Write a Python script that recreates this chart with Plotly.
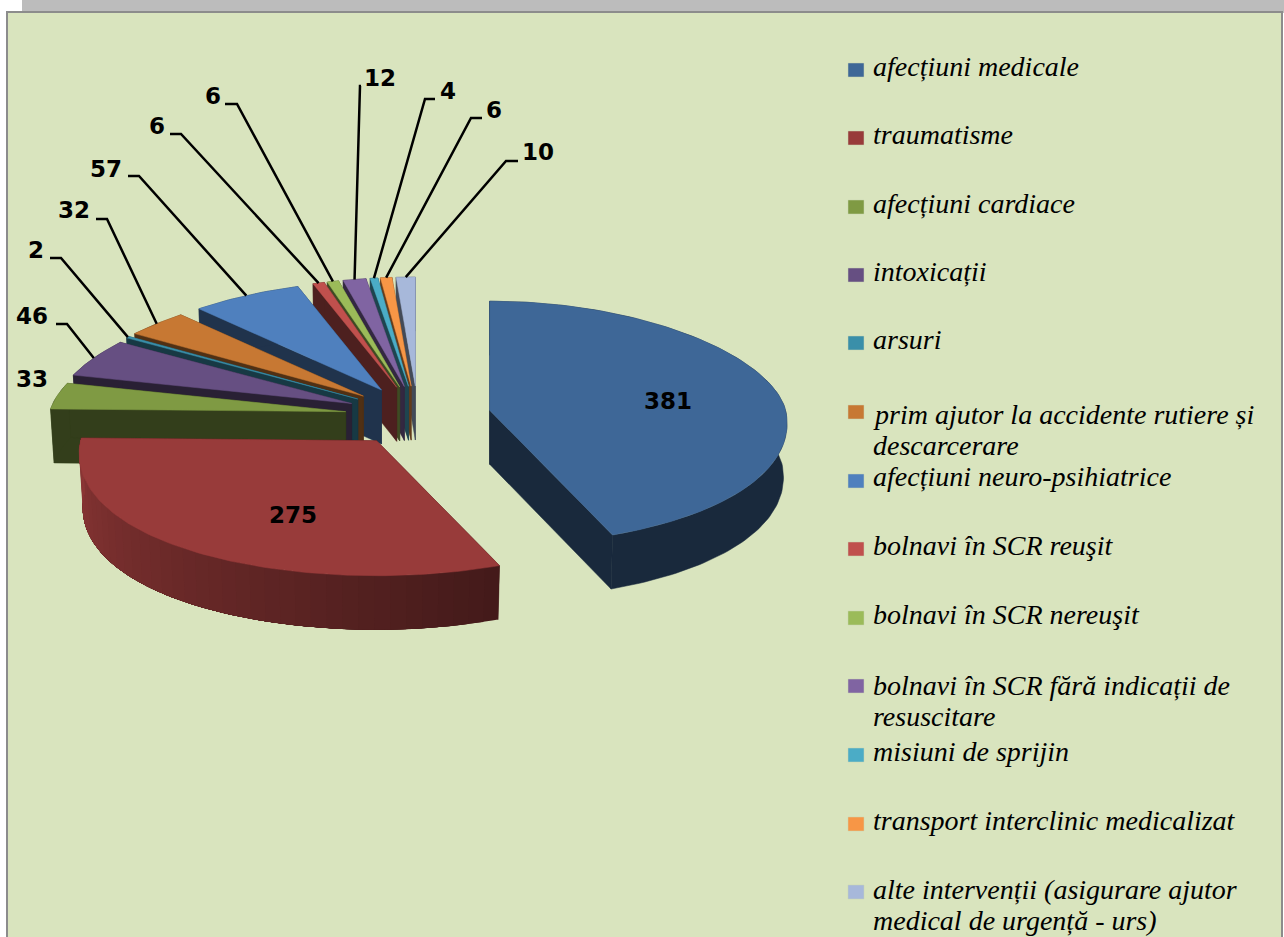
import math
import plotly.graph_objects as go

# ---------- data ----------
categories = [
    "afecțiuni medicale", "traumatisme", "afecțiuni cardiace", "intoxicații", "arsuri",
    "prim ajutor la accidente rutiere și<br>descarcerare", "afecțiuni neuro-psihiatrice",
    "bolnavi în SCR reuşit", "bolnavi în SCR nereuşit",
    "bolnavi în SCR fără indicații de<br>resuscitare", "misiuni de sprijin",
    "transport interclinic medicalizat",
    "alte intervenții (asigurare ajutor<br>medical de urgență - urs)",
]
values = [381, 275, 33, 46, 2, 32, 57, 6, 6, 12, 4, 6, 10]
colors = ["#3E6797", "#983B3A", "#7F9A43", "#664F82", "#3A8FA9", "#C77833", "#4F80BE",
          "#C0504D", "#9BBB59", "#8064A2", "#4BACC6", "#F79646", "#A7B8DA"]

# ---------- layout constants (pixels of the page) ----------
W, H = 1284, 937
CX, CY = 418, 416          # projected pie centre
PULL_X, PULL_Y = 73, 30    # explosion
RX, RY_BACK, RY_FRONT = 296, 109, 135
PERSP = 0.10
DEPTH = 54
WALL = 0.40
ARC_SHADE = {1: (0.44, 0.92)}   # gradient on the outer wall of the red slice

LABEL_POS = [(668, 401), (293, 515), (32, 379), (32, 316), (36, 250), (74, 210), (106, 169),
             (157, 126), (213, 96), (380, 78), (448, 91), (494, 110), (538, 152)]
# leader line: label end, elbow (index by slice)
LEADERS = {3: [(56, 324), (67, 324)], 4: [(50, 258), (61, 258)], 5: [(96, 219), (107, 219)],
           6: [(128, 176), (139, 176)], 7: [(170, 134), (181, 134)], 8: [(225, 104), (237, 104)],
           9: [(361, 86), (360, 86)], 10: [(435, 99), (425, 99)], 11: [(482, 118), (471, 118)],
           12: [(518, 161), (506, 161)]}
LEGEND_TEXT_Y = [66, 134, 203, 271, 339, 414, 476, 545, 614, 685, 751, 820, 889]
LEGEND_LINE_GAP = 31
LEGEND_BOX_Y = [70, 138, 207, 275, 343, 412, 481, 549, 618, 686, 755, 824, 892]


def shade(hex_color, k):
    r, g, b = (int(hex_color[i:i + 2], 16) for i in (1, 3, 5))
    return f"rgb({r * k:.0f},{g * k:.0f},{b * k:.0f})"


total = sum(values)
edges = [0.0]
for v in values:
    edges.append(edges[-1] + v / total * 2 * math.pi)


def apex(i):
    mid = (edges[i] + edges[i + 1]) / 2
    return CX + PULL_X * math.sin(mid), CY - PULL_Y * math.cos(mid)


def rim(i, t, bottom=False):
    ax, ay = apex(i)
    c = math.cos(t)
    rx = RX * (1 - PERSP * c) * (0.988 if bottom else 1)
    ry = RY_BACK if c > 0 else RY_FRONT
    return ax + rx * math.sin(t), ay - ry * c + (DEPTH if bottom else 0)


def arc(i, t0, t1, bottom=False, n=None):
    n = n or max(2, int(abs(t1 - t0) / 0.02))
    return [rim(i, t0 + (t1 - t0) * k / n, bottom) for k in range(n + 1)]


fig = go.Figure()


def poly(points, color, name=None, edge=0.5):
    fig.add_trace(go.Scatter(
        x=[p[0] for p in points] + [points[0][0]],
        y=[p[1] for p in points] + [points[0][1]],
        mode="lines", fill="toself", fillcolor=color,
        line=dict(color=color, width=edge),
        hoverinfo="text" if name else "skip", text=name, showlegend=False))


def draw_slice(i):
    t0, t1 = edges[i], edges[i + 1]
    ax, ay = apex(i)
    dark = shade(colors[i], WALL)
    # radial walls
    for t in (t0, t1):
        px, py = rim(i, t)
        qx, qy = rim(i, t, True)
        poly([(ax, ay), (px, py), (qx, qy), (ax, ay + DEPTH)], dark)
    # outer wall: each band runs on to the arc's end and the next band paints over it
    if i in ARC_SHADE:
        a, b = ARC_SHADE[i]
        seg = 40
        for s in range(seg):
            u0 = t0 + (t1 - t0) * s / seg
            k = a + (b - a) * (s + 0.5) / seg
            poly(arc(i, u0, t1) + arc(i, t1, u0, True), shade(colors[i], k), edge=0)
    else:
        poly(arc(i, t0, t1) + arc(i, t1, t0, True), dark)
    # top face
    poly([(ax, ay)] + arc(i, t0, t1), colors[i], f"{categories[i].replace('<br>', ' ')}: {values[i]}")


# back to front
for i in list(range(len(values) - 1, 1, -1)) + [0, 1]:
    draw_slice(i)

# leader lines, anchored on the rim of their slice
for i, pts in LEADERS.items():
    end = rim(i, (edges[i] + edges[i + 1]) / 2)
    xs = [p[0] for p in pts] + [end[0]]
    ys = [p[1] for p in pts] + [end[1]]
    fig.add_trace(go.Scatter(x=xs, y=ys, mode="lines", line=dict(color="#000000", width=2.5),
                             hoverinfo="skip", showlegend=False))

annotations = []
for v, (lx, ly) in zip(values, LABEL_POS):
    annotations.append(dict(x=lx, y=ly, xref="x", yref="y", text=f"<b>{v}</b>", showarrow=False,
                            font=dict(family="DejaVu Sans", size=23, color="#000000"),
                            xanchor="center", yanchor="middle"))
for c, ty in zip(categories, LEGEND_TEXT_Y):
    for n, part in enumerate(c.split("<br>")):
        annotations.append(dict(x=871, y=ty + n * LEGEND_LINE_GAP, xref="x", yref="y", text=part,
                                showarrow=False, align="left",
                                font=dict(family="Liberation Serif", size=28, color="#000000", style="italic"),
                                xanchor="left", yanchor="middle"))

shapes = [
    dict(type="rect", x0=22, x1=W, y0=0, y1=13, xref="x", yref="y", fillcolor="#BCBCBC",
         line=dict(width=0), layer="below"),
    dict(type="rect", x0=7, x1=1282, y0=12, y1=H + 5, xref="x", yref="y", fillcolor="#D9E4BE",
         line=dict(color="#8C8C8C", width=2), layer="below"),
]
for col, by in zip(colors, LEGEND_BOX_Y):
    shapes.append(dict(type="rect", x0=848, x1=864, y0=by - 7, y1=by + 7, xref="x", yref="y",
                       fillcolor=col, line=dict(color="#C8D4B0", width=0.5)))

fig.update_layout(
    width=W, height=H, margin=dict(l=0, r=0, t=0, b=0),
    paper_bgcolor="#FFFFFF", plot_bgcolor="rgba(0,0,0,0)", showlegend=False,
    xaxis=dict(range=[0, W], visible=False, fixedrange=True),
    yaxis=dict(range=[H, 0], visible=False, fixedrange=True),
    annotations=annotations, shapes=shapes,
)
fig.write_html("out.html", config={"displayModeBar": False},
               post_script="document.body.style.margin='0';document.documentElement.style.overflow='hidden';")
